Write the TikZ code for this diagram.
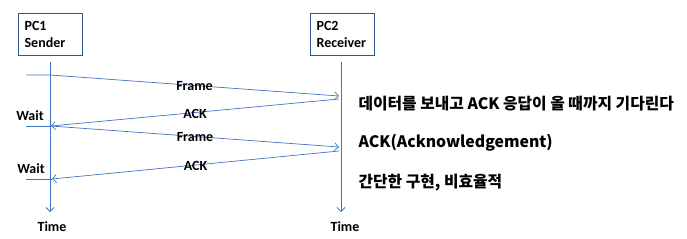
\documentclass[tikz,border=0pt]{standalone}
\usepackage{fontspec}
\setmainfont{Carlito}
\newfontfamily\kofont{Noto Sans CJK KR}
\usetikzlibrary{arrows.meta}
\definecolor{lineblue}{RGB}{68,114,196}
\definecolor{boxblue}{RGB}{47,85,151}

\begin{document}
\begin{tikzpicture}[
    x=1pt, y=-1pt,
    font=\fontsize{14}{17}\selectfont\bfseries,
    lifeline/.style={lineblue, line width=0.8pt, -{Straight Barb[length=4pt, width=8pt]}},
    msg/.style={lineblue, line width=0.7pt, -{Straight Barb[length=4pt, width=8pt]}},
    label/.style={text=black, inner sep=1pt},
    stub/.style={lineblue, line width=0.7pt},
    host/.style={draw=boxblue, line width=1.2pt, minimum width=64pt, minimum height=42pt, align=left, anchor=north west, text width=52pt, inner sep=6pt},
    note/.style={anchor=west, font=\kofont\fontsize{15.8}{18}\selectfont\bfseries}
]
\useasboundingbox (0,0) rectangle (687,238);

% Hosts
\node[host] (pc1) at (18, 13) {PC1\\Sender};
\node[host] (pc2) at (310, 13) {PC2\\Receiver};

% Lifelines
\coordinate (top1) at (50, 62);
\coordinate (end1) at (50, 212);
\coordinate (top2) at (341, 62);
\coordinate (end2) at (341, 212);
\draw[lifeline] (top1) -- (end1);
\draw[lifeline] (top2) -- (end2);
\node (time1) at (52, 227) {Time};
\node (time2) at (345, 227) {Time};

% Points on the lifelines
\coordinate (s0) at (26, 75);
\coordinate (a1) at (50, 75);
\coordinate (b1) at (339, 96);
\coordinate (b2) at (339, 99);
\coordinate (a2) at (51, 126);
\coordinate (b3) at (339, 147);
\coordinate (b4) at (339, 151);
\coordinate (a4) at (52, 179);
\coordinate (w1) at (26, 126);
\coordinate (w2) at (26, 179);

% Messages
\draw[msg] (s0) -- (a1) -- node[label, pos=0.5, yshift=-1pt] (frame1) {Frame} (b1);
\draw[msg] (b2) -- node[label, pos=0.5, yshift=-1pt] (ack1) {ACK} (a2);
\draw[msg] (a2) -- node[label, pos=0.5, yshift=-1pt] (frame2) {Frame} (b3);
\draw[msg] (b4) -- node[label, pos=0.5, yshift=-1pt] (ack2) {ACK} (a4);

% Waiting
\draw[stub] (w1) -- (a2);
\draw[stub] (w2) -- (a4);
\node (wait1) at (30, 116) {Wait};
\node (wait2) at (31, 169) {Wait};

% Notes
\node[note] (note1) at (355, 104) {데이터를 보내고 ACK 응답이 올 때까지 기다린다};
\node[note] (note2) at (355, 143) {ACK(Acknowledgement)};
\node[note] (note3) at (355, 183) {간단한 구현, 비효율적};

\end{tikzpicture}
\end{document}
